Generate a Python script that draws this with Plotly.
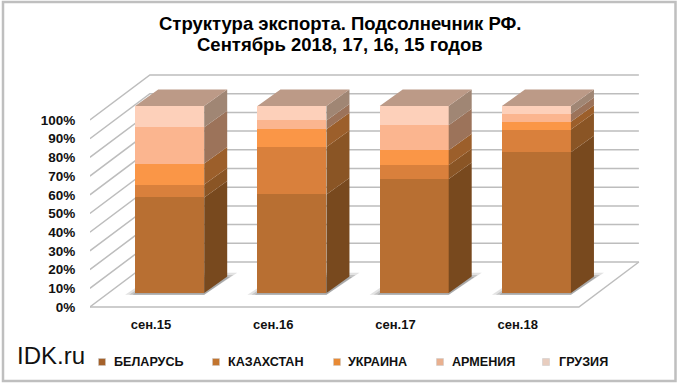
import plotly.graph_objects as go

categories = ["сен.15", "сен.16", "сен.17", "сен.18"]
belarus = [51.1, 52.7, 60.9, 75.3]
kazakhstan = [6.9, 25.4, 7.4, 12.1]
ukraine = [11.2, 9.4, 8.0, 4.2]
armenia = [19.4, 4.8, 13.4, 4.1]
georgia = [11.4, 7.7, 10.3, 4.3]
series_names = ["БЕЛАРУСЬ", "КАЗАХСТАН", "УКРАИНА", "АРМЕНИЯ", "ГРУЗИЯ"]
series_values = [belarus, kazakhstan, ukraine, armenia, georgia]
front_colors = ["#B86F32", "#D9803C", "#FA9647", "#FBB58F", "#FDD0BA"]
side_colors = ["#78491E", "#8A5525", "#9C5F2B", "#9C735A", "#A08674"]
top_color = "#BC9A87"
tick_vals = list(range(0, 101, 10))
tick_text = [f"{v}%" for v in tick_vals]
title_lines = ["Структура экспорта. Подсолнечник РФ.", "Сентябрь 2018, 17, 16, 15 годов"]

FONT = "Liberation Sans"
GRID = "#BDBDBD"
PX_X = 122.25
PX_Y = 1.87
WALL_DX, WALL_DY = 60 / PX_X, 45 / PX_Y
BAR_DX, BAR_DY = 23 / PX_X, 16.5 / PX_Y
SHIFT_X, SHIFT_Y = 18.7 / PX_X, 14 / PX_Y
BAR_W = 69 / PX_X
L, R, T, B = 90, 640, 60, 310
x_range = [(L - 151) / PX_X, (R - 151) / PX_X]
y_range = [(307 - B) / PX_Y, (307 - T) / PX_Y]

fig = go.Figure()
n = len(categories)
xl, xr = -0.5, n - 0.5


def poly(xs, ys, color, xa="x", ya="y", opacity=1.0):
    fig.add_trace(go.Scatter(x=xs, y=ys, xaxis=xa, yaxis=ya, mode="lines", fill="toself",
                             fillcolor=color, line=dict(width=0), opacity=opacity,
                             hoverinfo="skip", showlegend=False))


# floor, left wall and back wall lines
gx, gy = [], []
for v in tick_vals:
    gx += [xl, xl + WALL_DX, xr + WALL_DX, None]
    gy += [v, v + WALL_DY, v + WALL_DY, None]
gx += [xl, xr, xr + WALL_DX]
gy += [0, 0, WALL_DY]
fig.add_trace(go.Scatter(x=gx, y=gy, mode="lines", line=dict(color=GRID, width=1.5),
                         hoverinfo="skip", showlegend=False, cliponaxis=False))

# shadows on the floor, behind every bar
for i in range(n):
    a = i + SHIFT_X - BAR_W / 2
    b = i + SHIFT_X + BAR_W / 2
    for grow, op in [(1.0, 0.25), (0.6, 0.35), (0.25, 0.5)]:
        gx_ = grow * 10 / PX_X
        d = grow * 3
        poly([a - gx_, b, b + BAR_DX + gx_, a + BAR_DX],
             [SHIFT_Y - 1, SHIFT_Y - 1, SHIFT_Y + BAR_DY + d - 1, SHIFT_Y + BAR_DY + d - 1],
             "#8C8C8C", opacity=op)

# front faces
for name, vals, col in zip(series_names, series_values, front_colors):
    fig.add_trace(go.Bar(x=list(range(n)), y=vals, name=name, width=BAR_W, xaxis="x2", yaxis="y2",
                         marker=dict(color=col, line=dict(width=0)), showlegend=False,
                         hovertemplate="%{y}%<extra>" + name + "</extra>"))

# side faces computed from the stacked values
cum = [0.0] * n
for vals, col in zip(series_values, side_colors):
    sx, sy = [], []
    for i in range(n):
        x0 = i + BAR_W / 2
        b0, t0 = cum[i], cum[i] + vals[i]
        sx += [x0, x0 + BAR_DX, x0 + BAR_DX, x0, x0, None]
        sy += [b0, b0 + BAR_DY, t0 + BAR_DY, t0, b0, None]
        cum[i] = t0
    poly(sx, sy, col, "x2", "y2")

# top faces
tx, ty = [], []
for i in range(n):
    a, b = i - BAR_W / 2, i + BAR_W / 2
    tx += [a, a + BAR_DX, b + BAR_DX, b, a, None]
    ty += [cum[i], cum[i] + BAR_DY, cum[i] + BAR_DY, cum[i], cum[i], None]
poly(tx, ty, top_color, "x2", "y2")

# legend drawn as real text with small squares
legend_marker_x = [102, 216, 337, 440, 546]
legend_text_x = [112, 226, 346, 450, 557]
legend_y = 362
legend_marker_colors = ["#A5622B", "#C2752F", "#E88A35", "#E9B08F", "#E8CDBF"]


def px(x):
    return (x - L) / (R - L)


def py(y):
    return (B - y) / (B - T)


shapes = [dict(type="rect", xref="paper", yref="paper", x0=px(3), x1=px(675.5),
               y0=py(381), y1=py(2), line=dict(color="#BFBFBF", width=2.5),
               fillcolor="rgba(0,0,0,0)", layer="below")]
ann = []
for name, mx, tx_, c in zip(series_names, legend_marker_x, legend_text_x, legend_marker_colors):
    shapes.append(dict(type="rect", xref="paper", yref="paper", x0=px(mx - 3.5), x1=px(mx + 3.5),
                       y0=py(legend_y + 3.5), y1=py(legend_y - 3.5), fillcolor=c,
                       line=dict(color="#C9C9C9", width=0.5)))
    ann.append(dict(text=f"<b>{name}</b>", xref="paper", yref="paper", x=px(tx_), y=py(legend_y),
                    xanchor="left", yanchor="middle", showarrow=False,
                    font=dict(family=FONT, size=12.6, color="#111111")))
ann.append(dict(text="IDK.ru", xref="paper", yref="paper", x=px(15), y=py(355), xanchor="left",
                yanchor="middle", showarrow=False, font=dict(family=FONT, size=24, color="#111111")))
for line, ty_ in zip(title_lines, [23.5, 44.5]):
    ann.append(dict(text=f"<b>{line}</b>", xref="paper", yref="paper", x=px(340), y=py(ty_),
                    xanchor="center", yanchor="middle", showarrow=False,
                    font=dict(family=FONT, size=18.5, color="#000000")))

fig.update_layout(
    width=680, height=385, autosize=False,
    margin=dict(l=L, r=680 - R, t=T, b=385 - B, pad=0),
    paper_bgcolor="white", plot_bgcolor="white",
    barmode="stack", bargap=0, showlegend=False,
    shapes=shapes, annotations=ann,
    xaxis=dict(type="linear", range=x_range, tickmode="array", tickvals=list(range(n)), ticktext=categories,
               showgrid=False, zeroline=False, showline=False, ticks="outside", ticklen=2,
               tickcolor="rgba(0,0,0,0)", tickfont=dict(family=FONT, size=13, weight=700, color="#111111"),
               fixedrange=True),
    yaxis=dict(range=y_range, tickmode="array", tickvals=tick_vals, ticktext=tick_text,
               showgrid=False, zeroline=False, showline=False, ticks="outside", ticklen=11,
               tickcolor="rgba(0,0,0,0)", tickfont=dict(family=FONT, size=13.5, weight=700, color="#111111"),
               fixedrange=True),
    xaxis2=dict(type="linear", overlaying="x", range=[x_range[0] - SHIFT_X, x_range[1] - SHIFT_X], visible=False, fixedrange=True),
    yaxis2=dict(overlaying="y", range=[y_range[0] - SHIFT_Y, y_range[1] - SHIFT_Y], visible=False, fixedrange=True),
)
fig.write_html("out.html", config=dict(displayModeBar=False),
               post_script="document.body.style.margin='0';document.documentElement.style.overflow='hidden';")
